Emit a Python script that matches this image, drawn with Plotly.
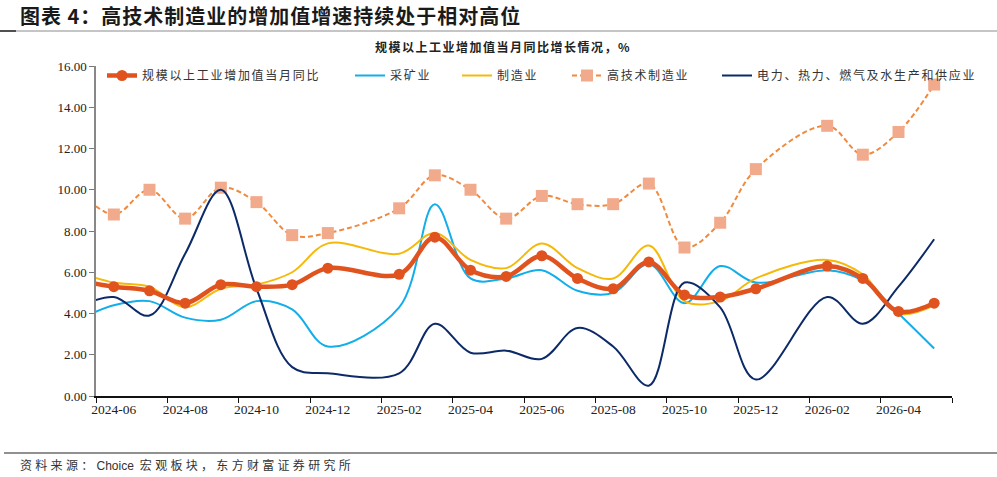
import plotly.graph_objects as go

# ---------------- data ----------------
months = ["2024-05", "2024-06", "2024-07", "2024-08", "2024-09", "2024-10", "2024-11", "2024-12",
          "2025-02", "2025-03", "2025-04", "2025-05", "2025-06", "2025-07", "2025-08", "2025-09",
          "2025-10", "2025-11", "2025-12", "2026-02", "2026-03", "2026-04", "2026-05"]
total = [5.6, 5.3, 5.1, 4.5, 5.4, 5.3, 5.4, 6.2, 5.9, 7.7, 6.1, 5.8, 6.8, 5.7, 5.2, 6.5,
         4.9, 4.8, 5.2, 6.3, 5.7, 4.1, 4.5]
mining = [3.7, 4.4, 4.6, 3.8, 3.7, 4.6, 4.2, 2.4, 4.3, 9.3, 5.7, 5.7, 6.1, 5.1, 5.0, 6.4,
          4.5, 6.3, 5.5, 6.1, 5.6, 4.0, 2.3]
manuf = [6.0, 5.5, 5.3, 4.3, 5.2, 5.4, 6.0, 7.4, 6.9, 7.9, 6.6, 6.2, 7.4, 6.2, 5.7, 7.3,
         4.6, 4.6, 5.7, 6.6, 5.9, 4.0, 4.4]
hitech = [10.0, 8.8, 10.0, 8.6, 10.1, 9.4, 7.8, 7.9, 9.1, 10.7, 10.0, 8.6, 9.7, 9.3, 9.3, 10.3,
          7.2, 8.4, 11.0, 13.1, 11.7, 12.8, 15.1]
power = [4.3, 4.8, 3.9, 6.9, 10.0, 5.2, 1.4, 1.1, 1.1, 3.5, 2.1, 2.2, 1.8, 3.3, 2.4, 0.5,
         5.5, 4.3, 0.8, 4.8, 3.5, 5.3, 7.6]
tick_labels = ["2024-06", "2024-08", "2024-10", "2024-12", "2025-02", "2025-04",
               "2025-06", "2025-08", "2025-10", "2025-12", "2026-02", "2026-04"]

names = ["规模以上工业增加值当月同比", "采矿业", "制造业", "高技术制造业", "电力、热力、燃气及水生产和供应业"]


def midx(m):
    y, mo = m.split("-")
    return (int(y) - 2024) * 12 + int(mo) - 5


x = [midx(m) for m in months]
tick_pos = [midx(t) for t in tick_labels]
bound_pos = [p - 0.5 for p in tick_pos] + [tick_pos[-1] + 1.5]

W, H = 997, 477
L, R, T, B = 96, 45, 66, 81
pw, ph = W - L - R, H - T - B


def px(v):
    return (v - L) / pw


def py(v):
    return (H - B - v) / ph


def sp(t, ls):
    return '<span style="letter-spacing:%spx">%s</span>' % (ls, t)


LS = 1.7
fig = go.Figure()
fig.add_trace(go.Scatter(x=x, y=mining, name=sp(names[1], LS), legendrank=2, legendwidth=62,
                         mode="lines",
                         line=dict(color="#12AEEA", width=2, shape="spline", smoothing=1)))
fig.add_trace(go.Scatter(x=x, y=manuf, name=sp(names[2], LS), legendrank=3, legendwidth=65,
                         mode="lines",
                         line=dict(color="#F5B90A", width=2, shape="spline", smoothing=1)))
fig.add_trace(go.Scatter(x=x, y=hitech, name=sp(names[3], LS), legendrank=4, legendwidth=105,
                         mode="lines+markers",
                         line=dict(color="#F08A3E", width=2, dash="5px,3px", shape="spline", smoothing=1),
                         marker=dict(symbol="square", size=12, color="#F2AA8C")))
fig.add_trace(go.Scatter(x=x, y=power, name=sp(names[4], LS), legend="legend2",
                         mode="lines",
                         line=dict(color="#0C2A68", width=2, shape="spline", smoothing=1)))
fig.add_trace(go.Scatter(x=x, y=total, name=sp(names[0], LS), legendrank=1, legendwidth=203,
                         mode="lines+markers",
                         line=dict(color="#E0531F", width=4.5, shape="spline", smoothing=1),
                         marker=dict(symbol="circle", size=11, color="#E0531F")))

serif = "Liberation Serif, Times New Roman, serif"
cjk = "Noto Sans CJK SC"
leg_common = dict(orientation="h", xanchor="left", y=py(61), yanchor="top",
                  font=dict(family=cjk, size=12, color="#333"), bgcolor="rgba(0,0,0,0)",
                  itemwidth=30, tracegroupgap=0)

fig.update_layout(
    width=W, height=H, autosize=False,
    margin=dict(l=L, r=R, t=T, b=B, autoexpand=False),
    paper_bgcolor="white", plot_bgcolor="white",
    font=dict(family=cjk, size=12, color="#222"),
    showlegend=True,
    legend=dict(x=px(102), **leg_common),
    legend2=dict(x=px(717), **leg_common),
    xaxis=dict(range=[0.5, 24.5], tickmode="array", tickvals=tick_pos, ticktext=tick_labels,
               ticks="", showgrid=False, zeroline=False, showline=True, linecolor="#111",
               linewidth=1.5, tickfont=dict(family=serif, size=13.5, color="#222"), tickangle=0,
               minor=dict(tickmode="array", tickvals=bound_pos, ticks="outside", ticklen=5,
                          tickcolor="#111", tickwidth=1.2, showgrid=False)),
    yaxis=dict(range=[0, 16], dtick=2, tickformat=".2f", ticks="outside", ticklen=5,
               tickcolor="#777", showgrid=False, zeroline=False, showline=True,
               linecolor="#888", linewidth=1.5, tickfont=dict(family=serif, size=13, color="#222")),
)

# title and decorations
fig.add_annotation(text="<b>" + sp("图表 4：高技术制造业的增加值增速持续处于相对高位", 1) + "</b>",
                   xref="paper", yref="paper", x=px(18), y=py(15), xanchor="left", yanchor="middle",
                   showarrow=False, font=dict(family=cjk, size=20, color="#1a1a1a"))
fig.add_shape(type="line", xref="paper", yref="paper", x0=px(0), x1=px(997), y0=py(31), y1=py(31),
              line=dict(color="#8c8c8c", width=1.2))
fig.add_shape(type="line", xref="paper", yref="paper", x0=px(0), x1=px(16), y0=py(31), y1=py(31),
              line=dict(color="#333", width=1.6))
fig.add_annotation(text="<b>" + sp("规模以上工业增加值当月同比增长情况，%", 1.5) + "</b>",
                   xref="paper", yref="paper", x=px(503), y=py(47), xanchor="center", yanchor="middle",
                   showarrow=False, font=dict(family=cjk, size=12, color="#222"))
fig.add_shape(type="line", xref="paper", yref="paper", x0=px(4), x1=px(997), y0=py(453), y1=py(453),
              line=dict(color="#222", width=1.2))
fig.add_annotation(text=sp("资料来源：", 3.3) + '<span style="font-family:Liberation Sans">Choice</span>'
                   + sp(" 宏观板块，东方财富证券研究所", 3.3),
                   xref="paper", yref="paper", x=px(18), y=py(465), xanchor="left", yanchor="middle",
                   showarrow=False, font=dict(family=cjk, size=12, color="#333"))

fig.write_html("out.html")
